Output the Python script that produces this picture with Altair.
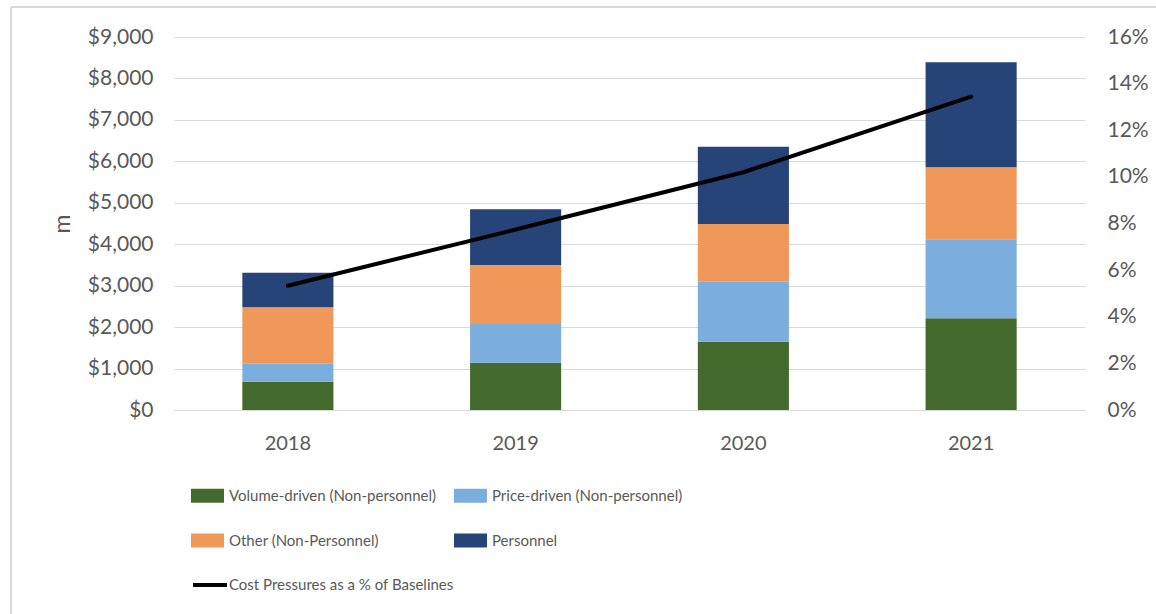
import altair as alt
import pandas as pd

# Cost pressure components ($m) by year
years = ["2018", "2019", "2020", "2021"]
volume_driven = [683, 1141, 1648, 2213]
price_driven = [434, 934, 1448, 1906]
other_nonpersonnel = [1361, 1424, 1392, 1738]
personnel = [835, 1344, 1866, 2533]

# Cost pressures as a share of baselines
pct_of_baseline = [0.0533, 0.0774, 0.1020, 0.1344]

categories = [
    "Volume-driven (Non-personnel)",
    "Price-driven (Non-personnel)",
    "Other (Non-Personnel)",
    "Personnel",
]
colors = ["#44692D", "#7BADDD", "#F0975A", "#264478"]
series_values = [volume_driven, price_driven, other_nonpersonnel, personnel]

rows = []
for order, (cat, vals) in enumerate(zip(categories, series_values)):
    for yr, v in zip(years, vals):
        rows.append({"year": yr, "category": cat, "value": v, "order": order})
bars_df = pd.DataFrame(rows)

line_df = pd.DataFrame({
    "year": years,
    "pct": pct_of_baseline,
    "series": ["Cost Pressures as a % of Baselines"] * len(years),
})

FONT = "Lato"
GREY_TEXT = "#595959"
GRID = "#d9d9d9"

x_enc = alt.X(
    "year:N",
    sort=years,
    scale=alt.Scale(paddingInner=0.6, paddingOuter=0.3),
    axis=alt.Axis(
        title=None, labelAngle=0, ticks=False, domainColor=GRID,
        domainWidth=1, labelFontSize=20, labelColor=GREY_TEXT,
        labelFont=FONT, labelPadding=23,
    ),
)

bars = alt.Chart(bars_df).mark_bar().encode(
    x=x_enc,
    y=alt.Y(
        "value:Q",
        stack="zero",
        scale=alt.Scale(domain=[0, 9000], nice=False),
        axis=alt.Axis(
            title="m", values=list(range(0, 9001, 1000)), format="$,.0f",
            ticks=False, domain=False, gridColor=GRID, gridWidth=1,
            labelFontSize=21, labelColor=GREY_TEXT, labelFont=FONT,
            labelPadding=21, titleFont=FONT, titleFontSize=23,
            titleFontWeight="normal", titleColor=GREY_TEXT, titlePadding=13,
        ),
    ),
    color=alt.Color(
        "category:N",
        scale=alt.Scale(domain=categories, range=colors),
        legend=alt.Legend(
            title=None, orient="none", legendX=17, legendY=442,
            direction="horizontal", columns=2, columnPadding=17, rowPadding=20,
            symbolType="M-1,-0.42L1,-0.42L1,0.42L-1,0.42Z",
            symbolSize=1089, symbolStrokeWidth=0, symbolOpacity=1,
            labelFont=FONT, labelFontSize=15, labelColor=GREY_TEXT,
            labelOffset=5, labelLimit=400,
        ),
    ),
    order=alt.Order("order:Q", sort="ascending"),
)

line = alt.Chart(line_df).mark_line(strokeWidth=4, strokeCap="round").encode(
    x=alt.X("year:N", sort=years),
    y=alt.Y(
        "pct:Q",
        scale=alt.Scale(domain=[0, 0.16], nice=False),
        axis=alt.Axis(
            orient="right", title=None, values=[i / 100 for i in range(0, 17, 2)],
            format=".0%", ticks=False, domain=False, grid=False,
            labelFontSize=21, labelColor=GREY_TEXT, labelFont=FONT,
            labelPadding=22,
        ),
    ),
    stroke=alt.Stroke(
        "series:N",
        scale=alt.Scale(range=["#000000"]),
        legend=alt.Legend(
            title=None, orient="none", legendX=17, legendY=529,
            symbolType="stroke", symbolSize=1156, symbolStrokeWidth=4,
            labelFont=FONT, labelFontSize=15, labelColor=GREY_TEXT,
            labelOffset=0, labelLimit=400,
        ),
    ),
)

# light frame along the top and left edges
frame_src = alt.Data(values=[{"k": 0}])
frame_left = alt.Chart(frame_src).mark_rule(color=GRID, strokeWidth=2).encode(
    x=alt.value(-163), y=alt.value(-30), y2=alt.value(600)
)
frame_top = alt.Chart(frame_src).mark_rule(color=GRID, strokeWidth=2).encode(
    x=alt.value(-163), x2=alt.value(1000), y=alt.value(-30)
)

chart = (
    alt.layer(bars, line, frame_left, frame_top)
    .resolve_scale(y="independent")
    .properties(
        width=911, height=373,
        padding={"left": 174, "top": 37, "right": 71, "bottom": 204},
        autosize=alt.AutoSizeParams(type="none"),
        background="white",
    )
    .configure_view(stroke=None)
)

chart.save("out.html", embed_options={"renderer": "svg", "actions": False})
